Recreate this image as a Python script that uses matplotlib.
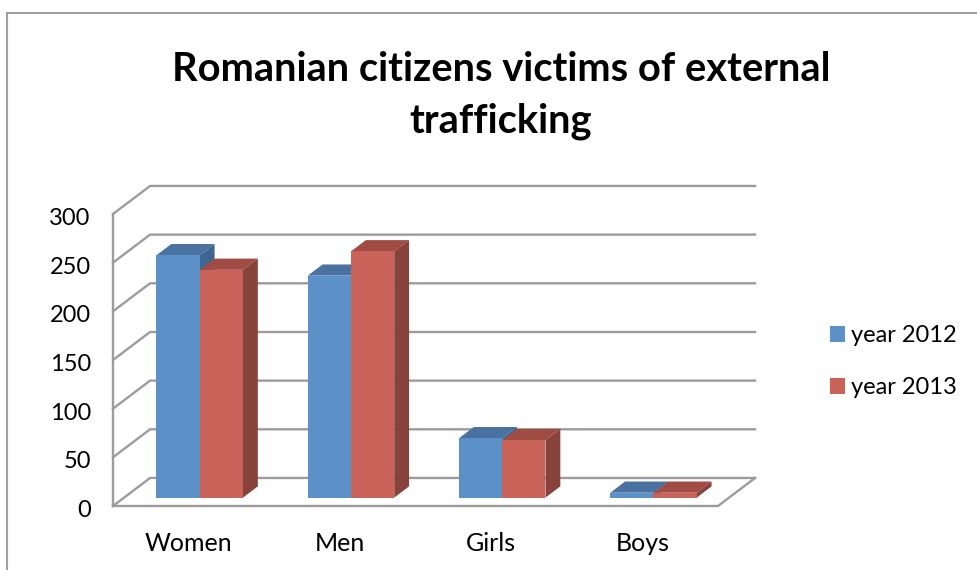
import matplotlib
matplotlib.use('Agg')
import matplotlib.pyplot as plt
from matplotlib.lines import Line2D
from matplotlib.transforms import ScaledTranslation

# values
categories = ['Women', 'Men', 'Girls', 'Boys']
year_2012 = [249, 228, 61, 5]
year_2013 = [234, 253, 59, 5]
series_names = ['year 2012', 'year 2013']
y_ticks = [0, 50, 100, 150, 200, 250, 300]

# faces: front, top, side
blue = ('#5b91c7', '#4a72a0', '#3f6690')
red = ('#c9635a', '#a04c44', '#87423b')
grid_color = '#9c9c9c'

# the fake 3d box: how far the back wall is shifted from the front plane
depth_x = 0.245
depth_y = 28.8
bar_width = 0.286
bar_front = 0.3
bar_back = 0.7

plt.rcParams['font.family'] = ['Lato', 'DejaVu Sans']

W, H = 978, 570
fig = plt.figure(figsize=(W / 100, H / 100), dpi=100)
ax = fig.add_axes([113 / W, 1 - 506 / H, 605 / W, 292 / H])
ax.set_xlim(0, len(categories))
ax.set_ylim(0, 300)


def shifted(x, v, d):
    return x + d * depth_x, v + d * depth_y


def draw_face(points, color):
    xs, ys = zip(*points)
    ax.fill(xs, ys, color=color, lw=0, clip_on=False, zorder=3)


def draw_series(values, left_offset, colors, label):
    for i, v in enumerate(values):
        x0 = i + 0.5 + left_offset
        fx, base = shifted(x0, 0, bar_front)
        fx1 = fx + bar_width
        top = base + v
        d = bar_back - bar_front
        bx, _ = shifted(fx, 0, d)
        bx1, _ = shifted(fx1, 0, d)
        back_top = top + d * depth_y
        back_base = base + d * depth_y
        draw_face([(fx, top), (fx1, top), (bx1, back_top), (bx, back_top)], colors[1])
        draw_face([(fx1, base), (fx1, top), (bx1, back_top), (bx1, back_base)], colors[2])
        ax.bar(fx, v, bar_width, bottom=base, align='edge', color=colors[0], lw=0,
               clip_on=False, zorder=3, label=label if i == 0 else None)


# walls and gridlines
for v in y_ticks:
    bx, by = shifted(0, v, 1)
    rx, _ = shifted(len(categories), v, 1)
    ax.plot([0, bx, rx], [v, by, by], color=grid_color, lw=1.7, clip_on=False, zorder=1,
            solid_joinstyle='miter')
fx, fy = shifted(len(categories), 0, 1)
ax.plot([0, len(categories), fx], [0, 0, fy], color=grid_color, lw=1.7, clip_on=False, zorder=2,
        solid_joinstyle='miter')
ax.plot([0, 0], [0, 300], color=grid_color, lw=1.7, clip_on=False, zorder=2)

draw_series(year_2012, -bar_width, blue, series_names[0])
draw_series(year_2013, 0, red, series_names[1])

for s in ax.spines.values():
    s.set_visible(False)
ax.patch.set_visible(False)
ax.set_xticks([i + 0.5 for i in range(len(categories))])
ax.set_xticklabels(categories)
ax.set_yticks(y_ticks)
ax.tick_params(axis='x', length=0, pad=18.5, labelsize=18)
ax.tick_params(axis='y', length=0, pad=16, labelsize=17)
# Lato digits sit a little high
down = ScaledTranslation(0, -2.5 / 100, fig.dpi_scale_trans)
for lab in ax.get_yticklabels():
    lab.set_transform(lab.get_transform() + down)

ax.legend(loc='upper left', bbox_to_anchor=(830 / W, 1 - 325 / H), bbox_transform=fig.transFigure,
          frameon=False, fontsize=17, handlelength=0.64, handleheight=0.64, handletextpad=0.27,
          labelspacing=1.33, borderpad=0, borderaxespad=0)

fig.text(501 / W, 1 - 70 / H, 'Romanian citizens victims of external', ha='center', va='center',
         fontsize=28.75, fontweight='bold')
fig.text(501 / W, 1 - 121 / H, 'trafficking', ha='center', va='center',
         fontsize=28.75, fontweight='bold')

# chart frame, only top and left are inside the picture
fig.add_artist(Line2D([7.5 / W, 7.5 / W, 1], [0, 1 - 13 / H, 1 - 13 / H], color='#a0a0a0', lw=1.5,
                      solid_joinstyle='miter', transform=fig.transFigure))

fig.savefig('out.png', dpi=100)
